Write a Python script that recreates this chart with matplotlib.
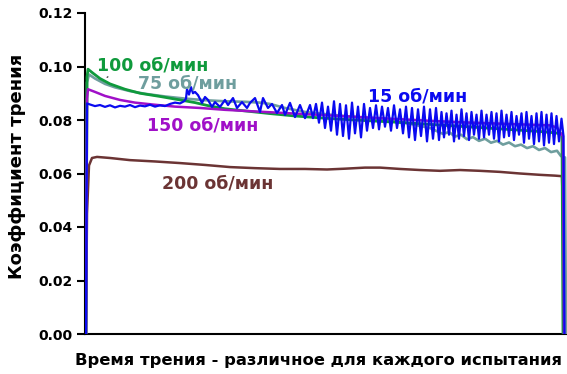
import matplotlib
matplotlib.use("Agg")
import matplotlib.pyplot as plt

plt.rcParams['font.family'] = ['DejaVu Sans']

# ---- data (x = arbitrary time units, y = friction coefficient) ----
brown_x = [1, 2, 4, 7, 12, 25, 45, 70, 95, 120, 145, 170, 195, 220, 242, 260, 280, 295,
           315, 335, 355, 375, 395, 415, 435, 455, 470, 477, 479, 480]
brown_y = [0.0, 0.045, 0.063, 0.0658, 0.0662, 0.0658, 0.0650, 0.0645, 0.0639, 0.0632,
           0.0624, 0.0620, 0.0617, 0.0617, 0.0615, 0.0618, 0.0622, 0.0622, 0.0617, 0.0613,
           0.0610, 0.0613, 0.0610, 0.0606, 0.0600, 0.0595, 0.0592, 0.0590, 0.0300, 0.0]

teal_x = [1, 2, 4, 10, 20, 30, 45, 60, 80, 100, 120, 140, 160, 175, 185, 200, 220, 250,
          280, 300, 320, 335, 345, 352, 358, 364, 370, 376, 382, 388, 394, 400, 406, 412,
          418, 424, 430, 436, 442, 448, 454, 460, 466, 472, 476, 480, 481]
teal_y = [0.0, 0.094, 0.097, 0.0955, 0.0935, 0.0922, 0.0908, 0.0898, 0.0888, 0.0880,
          0.0874, 0.0870, 0.0868, 0.0865, 0.0860, 0.0845, 0.0830, 0.0818, 0.0808, 0.0800,
          0.0790, 0.0778, 0.0770, 0.0758, 0.0748, 0.0755, 0.0738, 0.0745, 0.0728, 0.0736,
          0.0722, 0.0730, 0.0715, 0.0722, 0.0708, 0.0716, 0.0702, 0.0708, 0.0695, 0.0702,
          0.0688, 0.0695, 0.0680, 0.0685, 0.0665, 0.0660, 0.0]

green_x = [1, 2, 3, 8, 15, 25, 40, 55, 75, 95, 110, 125, 140, 160, 185, 210, 235, 260,
           285, 310, 335, 360, 385, 410, 435, 455, 470, 477, 478]
green_y = [0.0, 0.096, 0.099, 0.0975, 0.0955, 0.0935, 0.0915, 0.0900, 0.0888, 0.0875,
           0.0865, 0.0852, 0.0842, 0.0834, 0.0824, 0.0815, 0.0808, 0.0802, 0.0797, 0.0792,
           0.0786, 0.0780, 0.0774, 0.0768, 0.0762, 0.0757, 0.0752, 0.0748, 0.0]

purple_x = [1, 2, 3, 10, 20, 35, 50, 70, 90, 115, 140, 170, 200, 230, 260, 290, 320, 350,
            380, 410, 440, 465, 472, 476, 478, 479]
purple_y = [0.0, 0.088, 0.0915, 0.0905, 0.0890, 0.0875, 0.0865, 0.0857, 0.0850, 0.0845,
            0.0838, 0.0832, 0.0826, 0.0820, 0.0814, 0.0808, 0.0802, 0.0796, 0.0791, 0.0787,
            0.0783, 0.0780, 0.0772, 0.0748, 0.0740, 0.0]

blue_x = [1, 2, 5, 10, 15, 20, 25, 30, 35, 40, 45, 50, 55, 60, 65, 70, 75, 80, 85, 90, 95, 99,
          101, 102, 104, 106, 108, 110, 113, 117, 120, 123, 127, 130, 135, 140, 143, 148, 152,
          157, 162, 165, 170, 175, 178, 183, 187, 192, 197, 200, 205, 210, 215, 220, 225, 228,
          231, 234, 237, 240, 243, 246, 249, 252, 255, 258, 261, 264, 267, 270, 273, 276, 279,
          282, 285, 288, 291, 294, 297, 300, 303, 306, 309, 312, 315, 318, 321, 324, 327, 330,
          333, 336, 339, 342, 345, 348, 351, 354,
          356.5, 359, 361.5, 364, 366.5, 369, 371.5, 374, 376.5, 379, 381.5, 384, 386.5, 389,
          391.5, 394, 396.5, 399, 401.5, 404, 406.5, 409, 411.5, 414, 416.5, 419, 421.5, 424,
          426.5, 429, 431.5, 434, 436.5, 439, 441.5, 444, 446.5, 449, 451.5, 454, 456.5, 459,
          461.5, 464, 466.5, 469, 471.5, 474, 476.5, 478.5, 479.5]
blue_y = [0.0, 0.0862, 0.0858, 0.0852, 0.0856, 0.0849, 0.0855, 0.0847, 0.0853, 0.0850,
          0.0856, 0.0848, 0.0854, 0.0851, 0.0857, 0.0850, 0.0855, 0.0852, 0.0860, 0.0865,
          0.0862, 0.0870,
          0.0880, 0.0915, 0.0895, 0.0923, 0.0900, 0.0905, 0.0893, 0.0864, 0.0886, 0.0875,
          0.0849, 0.0867, 0.0849, 0.0875, 0.0856, 0.0882, 0.0845, 0.0867, 0.0845, 0.0864,
          0.0882, 0.0830, 0.0882, 0.0845, 0.0860, 0.0826, 0.0856, 0.0819, 0.0864, 0.0811,
          0.0856, 0.0807, 0.0856, 0.0807,
          0.0860, 0.0790, 0.0865, 0.0770, 0.0850, 0.0760, 0.0870, 0.0745, 0.0860, 0.0740,
          0.0855, 0.0730, 0.0865, 0.0750, 0.0850, 0.0735, 0.0860, 0.0760, 0.0845, 0.0770,
          0.0855, 0.0765, 0.0850, 0.0775, 0.0845, 0.0760, 0.0855, 0.0770, 0.0840, 0.0750,
          0.0850, 0.0735, 0.0845, 0.0725, 0.0840, 0.0740, 0.0850, 0.0720, 0.0840, 0.0730,
          0.0845, 0.0725,
          0.0830, 0.0735, 0.0825, 0.0745, 0.0835, 0.0720, 0.0820, 0.0730, 0.0840, 0.0740,
          0.0825, 0.0725, 0.0830, 0.0745, 0.0820, 0.0730, 0.0835, 0.0735, 0.0820, 0.0745,
          0.0830, 0.0730, 0.0825, 0.0720, 0.0835, 0.0735, 0.0820, 0.0740, 0.0830, 0.0725,
          0.0815, 0.0745, 0.0825, 0.0715, 0.0830, 0.0730, 0.0815, 0.0710, 0.0825, 0.0720,
          0.0830, 0.0705, 0.0820, 0.0715, 0.0825, 0.0710, 0.0815, 0.0720, 0.0805, 0.0740, 0.0]

series_labels = ["15 об/мин", "75 об/мин", "100 об/мин", "150 об/мин", "200 об/мин"]
ytick_values = [0.00, 0.02, 0.04, 0.06, 0.08, 0.10, 0.12]
x_label = "Время трения - различное для каждого испытания"
y_label = "Коэффициент трения"

# ---- colours ----
c_blue = "#0a0af0"
c_teal = "#6f9e9e"
c_green = "#0f9a3c"
c_purple = "#a010c8"
c_brown = "#6b3434"

W, H = 567, 374
fig = plt.figure(figsize=(W / 100, H / 100), dpi=100)
ax = fig.add_axes([85 / W, 1 - 334 / H, 482 / W, (334 - 13) / H])

ax.plot(brown_x, brown_y, color=c_brown, lw=1.8, zorder=2)
ax.plot(teal_x, teal_y, color=c_teal, lw=1.9, zorder=3)
ax.plot(green_x, green_y, color=c_green, lw=2.0, zorder=4)
ax.plot(purple_x, purple_y, color=c_purple, lw=1.8, zorder=5)
ax.plot(blue_x, blue_y, color=c_blue, lw=1.6, zorder=6)

ax.set_xlim(0, 482)
ax.set_ylim(0, 0.12)
ax.set_yticks(ytick_values)
ax.set_yticklabels([f"{v:.2f}" for v in ytick_values], fontsize=10, fontweight='bold')
ax.set_xticks([])
ax.tick_params(axis='y', direction='out', length=6, width=1.5, pad=3)
for s in ['top', 'right']:
    ax.spines[s].set_visible(False)
ax.spines['left'].set_linewidth(1.5)
ax.spines['bottom'].set_linewidth(1.5)

lab_kw = dict(fontsize=12.5, fontweight='bold', va='center', ha='left', zorder=10)
ax.text(12, 0.1003, series_labels[2], color=c_green, **lab_kw)
ax.text(53, 0.0938, series_labels[1], color=c_teal, **lab_kw)
ax.text(283, 0.0886, series_labels[0], color=c_blue, **lab_kw)
ax.text(62, 0.0781, series_labels[3], color=c_purple, **lab_kw)
ax.text(77, 0.0561, series_labels[4], color=c_brown, **lab_kw)
ax.annotate('', xy=(20, 0.0953), xytext=(25, 0.0968),
            arrowprops=dict(arrowstyle='-', color='#444444', lw=1))

fig.text(75 / W, 1 - 361 / H, x_label, fontsize=11.8, fontweight='bold',
         ha='left', va='center')
fig.text(17 / W, 1 - 166 / H, y_label, fontsize=13, fontweight='bold',
         rotation=90, ha='center', va='center')

fig.savefig("out.png", dpi=100)
